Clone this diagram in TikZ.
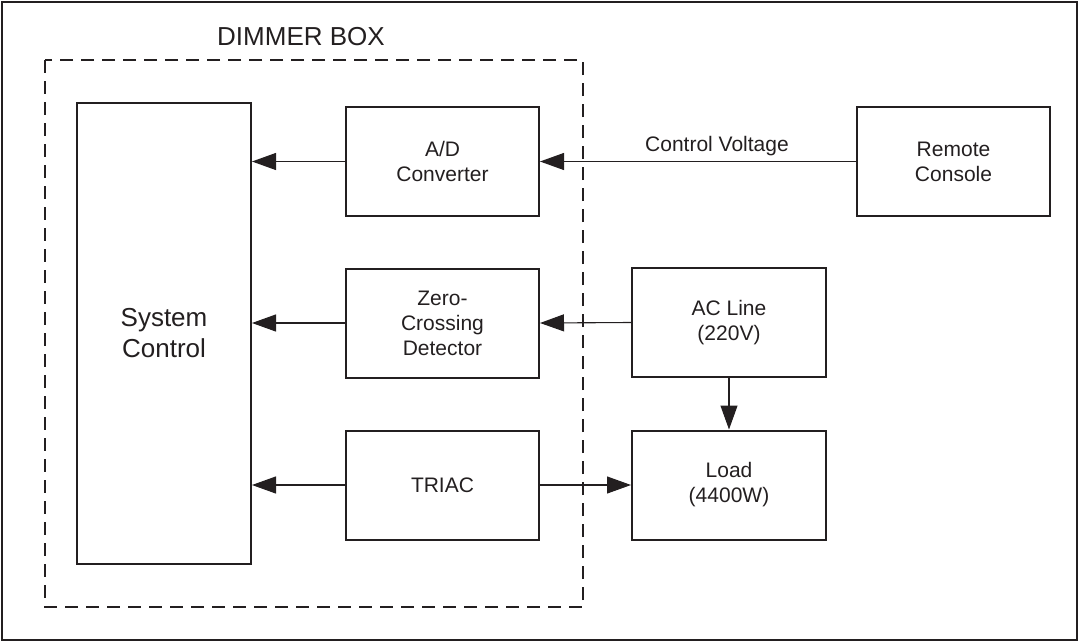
\documentclass[tikz,border=0pt]{standalone}
\usepackage{fontspec}
\setmainfont{Liberation Sans}
\usetikzlibrary{arrows.meta, positioning}
\definecolor{ink}{RGB}{35,31,32}

\begin{document}
\begin{tikzpicture}[
    x=1pt, y=-1pt,
    block/.style={
        draw=ink, rectangle, line width=2pt,
        minimum width=193pt, minimum height=109pt,
        align=center, text=ink,
        font=\fontsize{21}{25}\selectfont
    },
    arrow/.style={
        -{Triangle[length=24pt, width=17pt]},
        draw=ink, line width=1.1pt
    },
    lbl/.style={font=\fontsize{21}{25}\selectfont, text=ink}
]
\useasboundingbox (0,0) rectangle (1079,643);

% outer frame and dimmer box
\draw[ink, line width=2pt] (2,2) rectangle (1077,640);
\draw[ink, line width=2pt, dash pattern=on 13pt off 8pt] (45,60) rectangle (583,607);
\node[lbl, font=\fontsize{26}{30}\selectfont] (title) at (301,36.5) {DIMMER BOX};

\node[block, minimum width=174pt, minimum height=461pt,
      font=\fontsize{26}{31}\selectfont] (sys) at (164,333.5) {System\\Control};

\node[block] (adc) at (442.5,161.5) {A/D\\Converter};
\node[block] (zcd) at (442.5,323) {Zero-\\Crossing\\Detector};
\node[block] (triac) at (442.5,485) {TRIAC};

\node[block] (remote) at (953.5,161.5) {Remote\\Console};
\node[block, minimum width=194pt] (acline) at (729,322.5) {AC Line\\(220V)};
\node[block, minimum width=194pt] (load) at (729,485) {Load\\(4400W)};

\draw[arrow] (adc.west) -- (adc.west -| sys.east);
\draw[arrow] (zcd.west) -- (zcd.west -| sys.east);
\draw[arrow] (triac.west) -- (triac.west -| sys.east);

\draw[arrow] (remote.west) -- (adc.east)
    node[lbl, above=2pt, pos=0.44] {Control Voltage};
\draw[arrow] (acline.west) -- (zcd.east);
\draw[arrow] (acline.south) -- (load.north);
\draw[arrow] (triac.east) -- (load.west);

\end{tikzpicture}
\end{document}
